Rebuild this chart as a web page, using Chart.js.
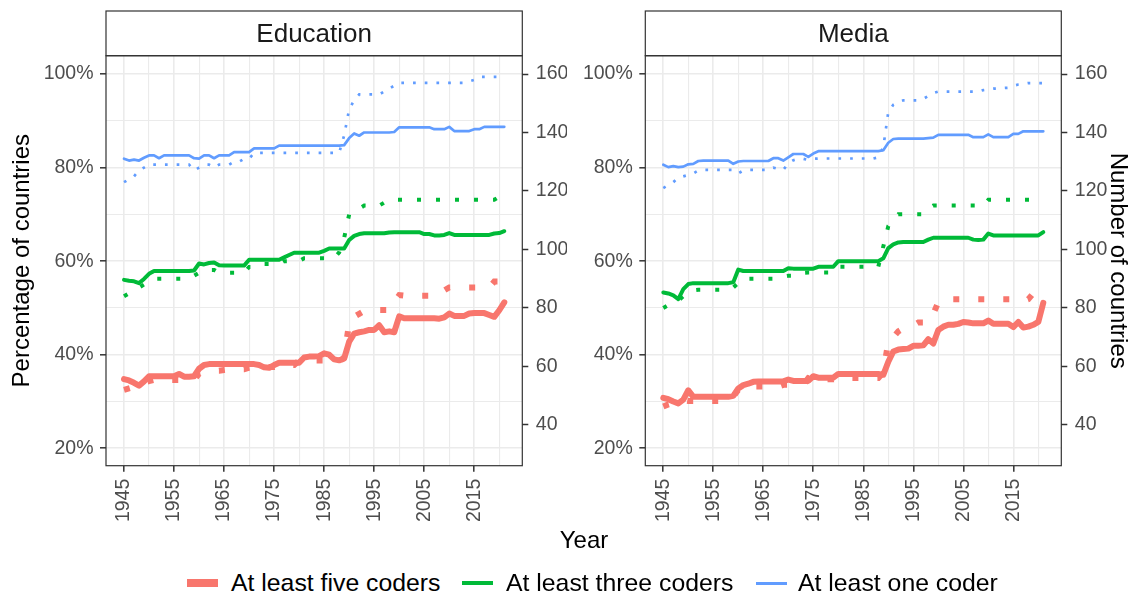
<!DOCTYPE html>
<html>
<head>
<meta charset="utf-8">
<script src="https://cdn.jsdelivr.net/npm/chart.js@4.4.1/dist/chart.umd.min.js"></script>
<style>
  body { margin: 0; background: #fff; font-family: "Liberation Sans", Arial, sans-serif; }
  #wrap { position: relative; width: 1134px; height: 594px; overflow: hidden; }
  canvas { position: absolute; top: 0; }
  .txt { position: absolute; white-space: nowrap; color: #000; }
  .key { position: absolute; height: 0; }
</style>
</head>
<body>
<div id="wrap">
  <canvas id="eduChart" width="567" height="540" style="left:0;width:567px;height:540px"></canvas>
  <canvas id="mediaChart" width="567" height="540" style="left:567px;width:567px;height:540px"></canvas>
  <div class="txt" id="xTitle" style="left:584px;top:540px;font-size:24px;transform:translate(-50%,-50%)">Year</div>
  <div id="legend"></div>
</div>
<script>
// Years on the x axis
const years = [1945,1946,1947,1948,1949,1950,1951,1952,1953,1954,
  1955,1956,1957,1958,1959,1960,1961,1962,1963,1964,
  1965,1966,1967,1968,1969,1970,1971,1972,1973,1974,
  1975,1976,1977,1978,1979,1980,1981,1982,1983,1984,
  1985,1986,1987,1988,1989,1990,1991,1992,1993,1994,
  1995,1996,1997,1998,1999,2000,2001,2002,2003,2004,
  2005,2006,2007,2008,2009,2010,2011,2012,2013,2014,
  2015,2016,2017,2018,2019,2020,2021];

const yearTicks = [1945,1955,1965,1975,1985,1995,2005,2015];
const yearMinor = [1950,1960,1970,1980,1990,2000,2010,2020];
const pctTicks = [20,40,60,80,100];
const pctMinor = [30,50,70,90];
const countTicks = [40,60,80,100,120,140,160];

const seriesNames = ['At least five coders', 'At least three coders', 'At least one coder'];

// Education: percentage of countries (solid lines)
const eduPctFive = [34.8,34.5,34.0,33.4,34.3,35.4,35.4,35.4,35.4,35.4,
  35.4,35.9,35.3,35.3,35.4,37.0,37.8,38.0,38.0,38.0,
  38.0,38.0,38.0,38.0,38.0,38.0,38.0,37.8,37.3,37.2,
  37.8,38.3,38.3,38.3,38.3,38.3,39.4,39.6,39.6,39.7,
  40.3,40.0,39.0,38.8,39.2,42.8,44.5,44.8,45.0,45.3,
  45.3,46.3,44.8,45.0,44.8,48.2,47.8,47.8,47.8,47.8,
  47.8,47.8,47.8,47.7,48.0,48.8,48.3,48.3,48.3,48.8,
  48.9,48.9,48.9,48.5,48.1,49.5,51.2];
const eduPctThree = [56.0,55.8,55.7,55.3,56.2,57.3,57.9,57.9,57.9,57.9,
  57.9,57.9,57.9,57.9,58.0,59.5,59.3,59.6,59.7,59.1,
  59.05,59.05,59.05,59.05,59.05,60.3,60.3,60.3,60.3,60.3,
  60.3,60.3,60.8,61.3,61.8,61.8,61.8,61.8,61.8,61.8,
  62.2,62.7,62.7,62.7,62.7,64.5,65.4,65.8,65.95,65.95,
  65.95,65.95,65.95,66.1,66.2,66.2,66.2,66.2,66.2,66.2,
  65.8,65.8,65.5,65.5,65.6,66.0,65.6,65.6,65.6,65.6,
  65.6,65.6,65.6,65.6,65.9,66.0,66.4];
const eduPctOne = [81.9,81.5,81.7,81.5,82.1,82.6,82.6,82.0,82.6,82.6,
  82.6,82.6,82.6,82.6,82.0,81.9,82.6,82.6,82.0,82.6,
  82.6,82.6,83.3,83.3,83.3,83.3,84.1,84.1,84.1,84.1,
  84.1,84.7,84.7,84.7,84.7,84.7,84.7,84.7,84.7,84.7,
  84.7,84.7,84.7,84.7,84.8,86.3,87.3,86.8,87.5,87.5,
  87.5,87.5,87.5,87.5,87.6,88.6,88.6,88.6,88.6,88.6,
  88.6,88.6,88.2,88.2,88.2,88.7,87.8,87.8,87.8,87.8,
  88.2,88.2,88.7,88.7,88.7,88.7,88.7];

// Education: number of countries (dotted lines)
const eduCntFive = [52,52.5,53,53.5,54.5,55,55.4,55.4,55.4,55.4,
  55.4,55.4,55.4,55.4,55.4,57.5,58,58.5,58.5,58.5,
  58.8,59,59,59,59,59.6,59.8,59.8,59.8,59.8,
  59.8,60.2,60.5,60.5,60.5,62,62,62,62,62,
  62,61.6,61.6,61.6,63,75,77,78,79,79.3,
  79.3,79.3,79.3,79.3,82,84.4,84.2,84.2,84.2,84.2,
  84.2,84.2,84.2,84.2,86,87,87,87,87,87,
  87,87,87,87,89,89,89];
const eduCntThree = [84,85,86,87,88,89,90,90,90,90,
  90,90,90,90,91,92,93,93,93,92,
  92,92,92,92,92,94,94,95,95,95,
  95,95,96,96,96,96,97,97,97,97,
  97,97,97,99,104,112,113,114,115,115,
  115,115,116,116,117,117,117,117,117,117,
  117,117,117,117,117,117,117,117,117,117,
  117,117,117,117,117,118,119];
const eduCntOne = [123,124,125,127,128,129,129,129,129,129,
  129,129,129,129,127,128,129,129,128,129,
  129,129,130,130,131,131,133,133,133,133,
  133,133,133,133,133,133,133,133,133,133,
  133,133,133,133,139,148,151,153,153,153,
  153,153,154,155,156,157,157,157,157,157,
  157,157,157,157,157,157,157,157,157,157.5,
  158,159,159,159,159,159,159];

// Media: percentage of countries (solid lines)
const medPctFive = [30.8,30.5,30.0,29.6,30.4,32.4,31.0,31.0,31.0,31.0,
  31.0,31.0,31.0,31.0,31.2,32.8,33.5,33.8,34.2,34.3,
  34.3,34.3,34.3,34.3,34.3,34.7,34.4,34.4,34.4,34.4,
  35.4,35.1,35.1,35.1,35.1,35.9,35.9,35.9,35.9,35.9,
  35.9,35.9,35.9,35.9,35.7,38.5,40.7,41.1,41.2,41.3,
  41.9,41.9,42.0,43.3,42.4,45.3,46.0,46.4,46.4,46.6,
  47.0,46.9,46.7,46.7,46.7,47.3,46.6,46.6,46.6,46.6,
  45.9,47.0,45.8,46.0,46.4,47.0,51.1];
const medPctThree = [53.3,53.1,52.7,51.9,54.0,55.1,55.3,55.3,55.3,55.3,
  55.3,55.3,55.3,55.3,55.5,58.2,57.9,57.9,57.9,57.9,
  57.9,57.9,57.9,57.9,57.9,58.5,58.4,58.4,58.4,58.4,
  58.4,58.8,58.8,58.8,58.8,60.0,60.0,60.0,60.0,60.0,
  60.0,60.0,60.0,60.0,60.6,62.8,63.6,64.0,64.1,64.1,
  64.1,64.1,64.1,64.6,65.0,65.0,65.0,65.0,65.0,65.0,
  65.0,65.0,64.6,64.5,64.6,65.9,65.5,65.5,65.5,65.5,
  65.5,65.5,65.5,65.5,65.5,65.5,66.2];
const medPctOne = [80.6,80.1,80.3,80.1,80.2,80.7,80.8,81.4,81.5,81.5,
  81.5,81.5,81.5,81.5,80.8,81.3,81.4,81.4,81.4,81.4,
  81.4,81.4,82.0,82.0,81.5,82.2,82.9,82.9,82.9,82.3,
  83.0,83.5,83.5,83.5,83.5,83.5,83.5,83.5,83.5,83.5,
  83.5,83.5,83.5,83.5,83.7,85.3,86.1,86.2,86.2,86.2,
  86.2,86.2,86.2,86.3,86.4,87.0,87.0,87.0,87.0,87.0,
  87.0,87.0,86.5,86.5,86.5,87.1,86.5,86.5,86.5,86.5,
  87.2,87.2,87.75,87.75,87.75,87.75,87.75];

// Media: number of countries (dotted lines)
const medCntFive = [46.3,47,47.5,48,48.5,48.2,48.2,48.2,48.2,48.2,
  48.2,48.2,48.2,48.2,49.7,52,53,53.1,53.1,53.1,
  53.1,53.1,53.1,53.1,53.7,53.7,53.7,53.7,53.7,56,
  55.6,55.6,55.6,55.6,55.6,56,56,56,56,56,
  56,56,56,56,58,68.5,70,72,73,73,
  74,75,75,75,78,82,83,83,83,83,
  83,83,83,83,83,83,83,83,83,83,
  83,82.4,82.4,83,85,87.5,88];
const medCntThree = [80,81,82,82.5,84,85,86,86.2,86.2,86.2,
  86.2,86.2,86.2,86.2,87,88.5,90,90,90,90,
  90,90,90,90,90.7,91,91,91,92,92.1,
  92.1,92.1,92.1,92.1,92.1,94.1,94.1,94.1,94.1,94.1,
  94.1,94.1,94.1,94.1,101,108,110,112,112,112,
  112,112,112,114,115,115,115,115,115,115,
  115,115,115,115,115,117,117,117,117,117,
  117,117,117,117,117,117,117];
const medCntOne = [121,122,123,124.5,125,125.5,126,127,127.2,127.2,
  127.2,127.2,127.2,127.2,127.2,126,127,127.2,127.2,127.2,
  127.2,127.2,128,127.5,127.2,129.5,130.5,131,131,130.6,
  131,131.1,131.1,131.1,131.1,131.1,131.1,131.1,131.1,131.1,
  131.1,131.1,131.1,131.5,135,147,149.5,150.5,151,151,
  151,151,151.5,152.5,153.5,154,154,154,154,154,
  154,154,154,154,154.5,154.7,155,155,155.2,155.3,
  156,156.4,156.6,156.9,156.9,156.9,156.9];

const colors = ['#F8766D', '#00BA38', '#619CFF'];
const widths = [6, 4, 2.7];
const dashes = [[6, 19], [4, 15], [2.7, 9]];

const FONT = '"Liberation Sans", Arial, sans-serif';
Chart.defaults.font.family = FONT;

const toPoints = arr => years.map((yr, i) => ({ x: yr, y: arr[i] }));

// strip on top of each panel + dark panel border
const panelFrame = {
  id: 'panelFrame',
  afterDraw(chart, args, opts) {
    const { ctx, chartArea: a } = chart;
    ctx.save();
    ctx.lineWidth = 1.2;
    ctx.strokeStyle = '#333333';
    ctx.fillStyle = '#ffffff';
    ctx.fillRect(a.left, 11, a.right - a.left, a.top - 11);
    ctx.strokeRect(a.left, 11, a.right - a.left, a.top - 11);
    ctx.strokeRect(a.left, a.top, a.right - a.left, a.bottom - a.top);
    ctx.fillStyle = '#1a1a1a';
    ctx.font = '26px ' + FONT;
    ctx.textAlign = 'center';
    ctx.textBaseline = 'middle';
    ctx.fillText(opts.title, (a.left + a.right) / 2, (11 + a.top) / 2 + 1);
    ctx.restore();
  }
};

function makeChart(id, title, pct, cnt, side) {
  const datasets = [];
  for (let i = 0; i < 3; i++) {
    datasets.push({
      label: seriesNames[i] + ' (%)',
      data: toPoints(pct[i]),
      yAxisID: 'y',
      borderColor: colors[i],
      borderWidth: widths[i],
      borderJoinStyle: 'round',
      borderCapStyle: 'round',
      pointRadius: 0,
      tension: 0
    });
    datasets.push({
      label: seriesNames[i] + ' (n)',
      data: toPoints(cnt[i]),
      yAxisID: 'y1',
      borderColor: colors[i],
      borderWidth: widths[i],
      borderDash: dashes[i],
      borderCapStyle: 'butt',
      pointRadius: 0,
      tension: 0
    });
  }

  const tickFont = { family: FONT, size: 19.5 };
  const tickColor = '#4d4d4d';

  return new Chart(document.getElementById(id), {
    type: 'line',
    data: { datasets },
    plugins: [panelFrame],
    options: {
      responsive: false,
      animation: false,
      layout: { padding: { top: 55.7, left: 0, right: 0, bottom: 0 } },
      plugins: {
        legend: { display: false },
        tooltip: { enabled: false },
        panelFrame: { title }
      },
      scales: {
        x: {
          type: 'linear',
          min: 1941.4,
          max: 2024.6,
          afterBuildTicks: s => { s.ticks = yearTicks.concat(yearMinor).sort().map(v => ({ value: v })); },
          afterFit: s => { s.height = 74.3; },
          border: { display: false },
          grid: {
            color: '#ebebeb',
            lineWidth: c => yearTicks.includes(c.tick.value) ? 1.6 : 1.1,
            tickColor: c => yearTicks.includes(c.tick.value) ? '#333333' : 'rgba(0,0,0,0)',
            tickLength: 6,
            tickWidth: 1.5
          },
          ticks: {
            autoSkip: false,
            minRotation: 90,
            maxRotation: 90,
            padding: 7,
            font: tickFont,
            color: tickColor,
            callback: v => yearTicks.includes(v) ? String(v) : ''
          }
        },
        y: {
          position: 'left',
          min: 16.28,
          max: 103.91,
          afterBuildTicks: s => { s.ticks = pctTicks.concat(pctMinor).sort((a, b) => a - b).map(v => ({ value: v })); },
          afterFit: s => { s.width = side === 'left' ? 106 : 78.3; },
          border: { display: false },
          grid: {
            color: '#ebebeb',
            lineWidth: c => pctTicks.includes(c.tick.value) ? 1.6 : 1.1,
            tickColor: c => pctTicks.includes(c.tick.value) ? '#333333' : 'rgba(0,0,0,0)',
            tickLength: 6,
            tickWidth: 1.5
          },
          ticks: {
            padding: 6.5,
            font: tickFont,
            color: tickColor,
            callback: v => pctTicks.includes(v) ? v + '%' : ''
          },
          title: {
            display: side === 'left',
            text: 'Percentage of countries',
            color: '#000',
            font: { family: FONT, size: 24 },
            padding: { top: 7.6, bottom: 0 }
          }
        },
        y1: {
          position: 'right',
          min: 26.05,
          max: 166.26,
          afterBuildTicks: s => { s.ticks = countTicks.map(v => ({ value: v })); },
          afterFit: s => { s.width = side === 'left' ? 44.7 : 72.7; },
          border: { display: false },
          grid: {
            drawOnChartArea: false,
            tickColor: '#333333',
            tickLength: 6,
            tickWidth: 1.5
          },
          ticks: {
            padding: 7.5,
            font: tickFont,
            color: tickColor
          },
          title: {
            display: side === 'right',
            text: 'Number of countries',
            color: '#000',
            font: { family: FONT, size: 24 },
            padding: { top: 1.6, bottom: 0 }
          }
        }
      }
    }
  });
}

makeChart('eduChart', 'Education',
  [eduPctFive, eduPctThree, eduPctOne], [eduCntFive, eduCntThree, eduCntOne], 'left');
makeChart('mediaChart', 'Media',
  [medPctFive, medPctThree, medPctOne], [medCntFive, medCntThree, medCntOne], 'right');

// legend below the panels
const legendKeys = [
  { key: 187, text: 231, h: 8 },
  { key: 462, text: 506, h: 4.5 },
  { key: 756, text: 798, h: 3 }
];
const legend = document.getElementById('legend');
seriesNames.forEach((name, i) => {
  const k = document.createElement('div');
  k.className = 'key';
  k.style.cssText = `left:${legendKeys[i].key}px;top:${583 - legendKeys[i].h / 2}px;width:31px;height:${legendKeys[i].h}px;background:${colors[i]}`;
  legend.appendChild(k);
  const t = document.createElement('div');
  t.className = 'txt';
  t.style.cssText = `left:${legendKeys[i].text}px;top:583px;font-size:24.8px;transform:translateY(-50%)`;
  t.textContent = name;
  legend.appendChild(t);
});
</script>
</body>
</html>
